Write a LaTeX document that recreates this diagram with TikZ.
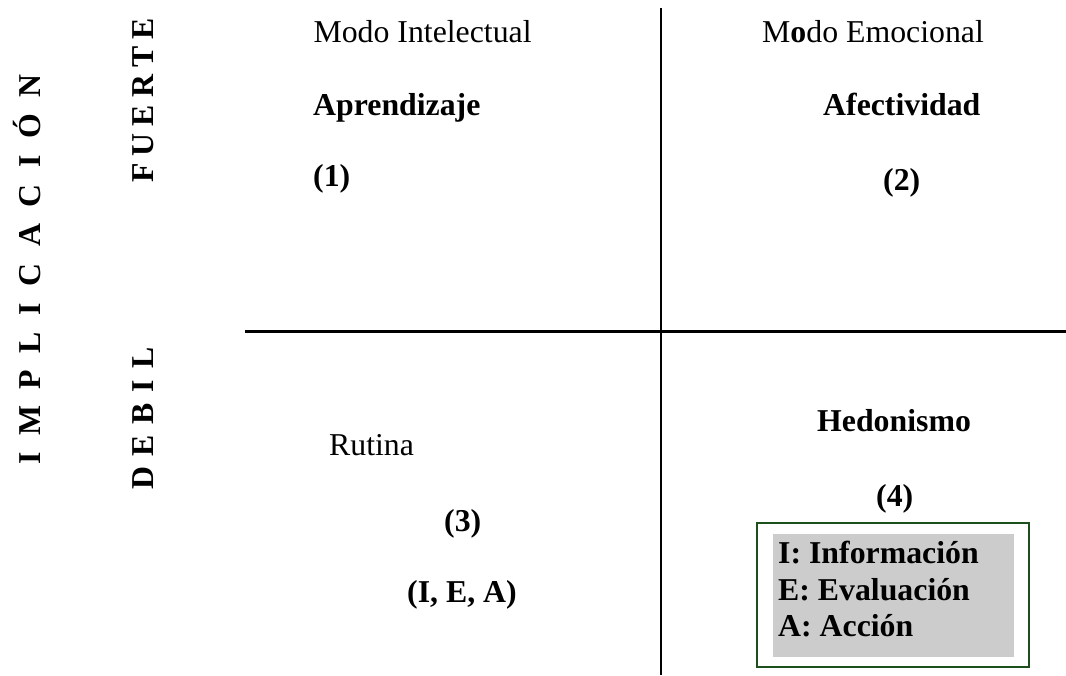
\documentclass[tikz,border=0pt]{standalone}
\usepackage{fontspec}
\setmainfont{Liberation Serif}
\newcommand\fsz{\fontsize{31.8pt}{36.5pt}\selectfont}
\newcommand\gapA{\hspace{16.6pt}}
\newcommand\gapB{\hspace{7.2pt}}
\newcommand\gapC{\hspace{10.8pt}}
\definecolor{boxgreen}{RGB}{30,80,30}
\definecolor{legendgray}{RGB}{204,204,204}
\begin{document}
\begin{tikzpicture}[x=1pt,y=1pt,
  lbl/.style={font=\fsz, anchor=base west, inner sep=0pt},
  blbl/.style={font=\fsz\bfseries, anchor=base west, inner sep=0pt},
  vlbl/.style={font=\fsz\bfseries, rotate=90, anchor=base west, inner sep=0pt},
  axisline/.style={line width=2.2pt, black},
  outerbox/.style={draw=boxgreen, line width=2.2pt, fill=white, minimum width=272pt, minimum height=144pt, inner sep=0pt},
  graybox/.style={fill=legendgray, minimum width=241pt, minimum height=123pt, inner sep=0pt}]
\useasboundingbox (0,0) rectangle (1066,675);

% axes
\coordinate (vtop) at (661,667);
\coordinate (vbot) at (661,0);
\coordinate (hleft) at (245,343.5);
\coordinate (hright) at (1066,343.5);
\draw[axisline] (vtop) -- (vbot);
\draw[axisline] (hleft) -- (hright);

% vertical labels
\node[vlbl] (impl) at (40,210) {I\gapA M\gapA P\gapA L\gapA I\gapA C\gapA A\gapA C\gapA I\gapA Ó\gapA N};
\node[vlbl] (fuerte) at (153,492) {F\gapB U\gapB E\gapB R\gapB T\gapB E};
\node[vlbl] (debil) at (153,185) {D\gapC E\gapC B\gapC I\gapC L};

% quadrant texts
\node[lbl] (mint) at (313.3,632) {Modo Intelectual};
\node[lbl] (memo) at (762,632) {M{\bfseries o}do Emocional};
\node[blbl] (apr) at (313,559.3) {Aprendizaje};
\node[blbl] (afe) at (823,559) {Afectividad};
\node[blbl] (q1) at (313,488) {(1)};
\node[blbl] (q2) at (883,484) {(2)};
\node[lbl] (rut) at (329,219) {Rutina};
\node[blbl] (hed) at (817,243.3) {Hedonismo};
\node[blbl] (q3) at (444,143.3) {(3)};
\node[blbl] (q4) at (876,168.3) {(4)};
\node[blbl] (iea) at (407,72) {(I, E, A)};

% legend box
\node[outerbox] (box) at (893,80) {};
\node[graybox] (legend) at (893.5,79.5) {};
\node[blbl] (li) at (778,111) {I: Información};
\node[blbl] (le) at (778,74.3) {E: Evaluación};
\node[blbl] (la) at (778,38) {A: Acción};
\end{tikzpicture}
\end{document}
